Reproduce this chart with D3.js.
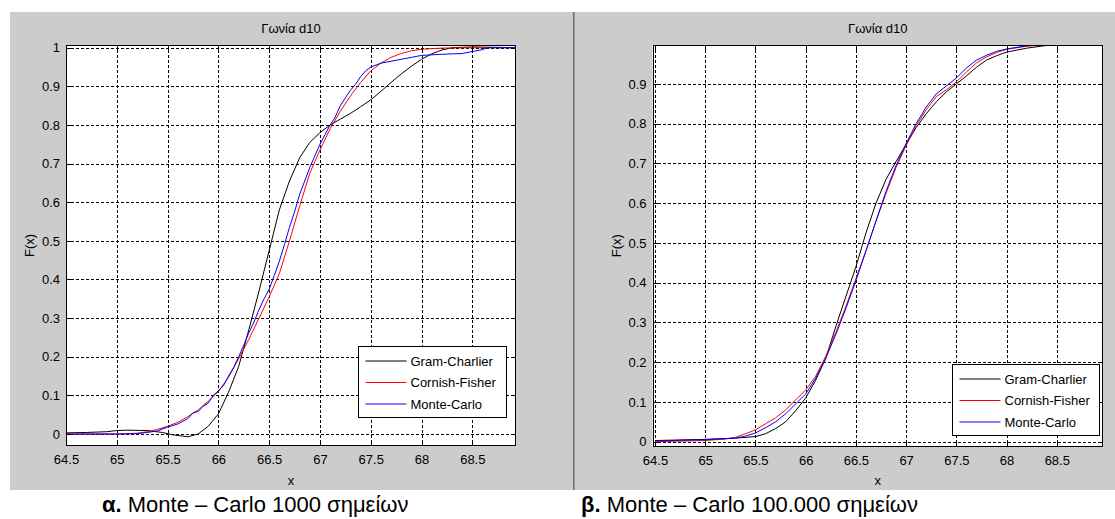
<!DOCTYPE html>
<html>
<head>
<meta charset="utf-8">
<script src="https://cdn.jsdelivr.net/npm/d3@7/dist/d3.min.js"></script>
<style>
  html, body { margin: 0; padding: 0; background: #ffffff; }
  svg { display: block; }
  text { font-family: "Liberation Sans", Arial, sans-serif; fill: #000; }
</style>
</head>
<body>
<svg id="fig" width="1115" height="519"></svg>
<script>
// ---- shared axis labels ----
const titleText = "Γωνία d10";
const xLabel = "x";
const yLabel = "F(x)";
const seriesNames = ["Gram-Charlier", "Cornish-Fisher", "Monte-Carlo"];
const seriesColors = ["#000000", "#ff0000", "#0000ff"];
const xTicks = [64.5, 65, 65.5, 66, 66.5, 67, 67.5, 68, 68.5];
const yTicksA = [0, 0.1, 0.2, 0.3, 0.4, 0.5, 0.6, 0.7, 0.8, 0.9, 1];
const yTicksB = [0, 0.1, 0.2, 0.3, 0.4, 0.5, 0.6, 0.7, 0.8, 0.9];

// ---- panel α : Monte-Carlo with 1000 samples ----
const gcXA = [64.5, 64.7, 64.9, 65.0, 65.1, 65.3, 65.45, 65.55, 65.7, 65.8, 65.9, 66.0, 66.1, 66.2, 66.3, 66.4, 66.5, 66.6, 66.7, 66.8, 66.9, 67.0, 67.1, 67.2, 67.3, 67.4, 67.5, 67.6, 67.7, 67.8, 67.9, 68.0, 68.1, 68.2, 68.3, 68.5, 68.93];
const gcFA = [0.003, 0.004, 0.006, 0.009, 0.01, 0.009, 0.004, -0.002, -0.007, 0.0, 0.02, 0.052, 0.108, 0.175, 0.27, 0.37, 0.475, 0.58, 0.655, 0.715, 0.755, 0.78, 0.80, 0.815, 0.83, 0.847, 0.865, 0.887, 0.91, 0.932, 0.952, 0.97, 0.984, 0.994, 1.0, 1.002, 1.0];

const cfXA = [64.5, 65.0, 65.2, 65.3, 65.4, 65.5, 65.6, 65.7, 65.8, 65.9, 66.0, 66.1, 66.2, 66.3, 66.4, 66.5, 66.6, 66.7, 66.8, 66.9, 67.0, 67.1, 67.2, 67.3, 67.4, 67.5, 67.6, 67.7, 67.8, 67.9, 68.0, 68.2, 68.5, 68.93];
const cfFA = [0.0, 0.0, 0.002, 0.006, 0.012, 0.02, 0.03, 0.045, 0.062, 0.085, 0.11, 0.147, 0.195, 0.245, 0.30, 0.355, 0.415, 0.5, 0.59, 0.675, 0.735, 0.79, 0.835, 0.875, 0.91, 0.94, 0.96, 0.975, 0.985, 0.992, 0.996, 0.999, 1.0, 1.0];

const mcXA = [64.5, 65.0, 65.2, 65.3, 65.4, 65.5, 65.6, 65.7, 65.75, 65.8, 65.85, 65.9, 65.95, 66.0, 66.05, 66.1, 66.15, 66.2, 66.25, 66.3, 66.35, 66.4, 66.45, 66.5, 66.55, 66.6, 66.65, 66.7, 66.75, 66.8, 66.85, 66.9, 66.95, 67.0, 67.05, 67.1, 67.15, 67.2, 67.25, 67.3, 67.35, 67.4, 67.45, 67.5, 67.6, 67.7, 67.8, 67.9, 68.0, 68.2, 68.4, 68.5, 68.6, 68.65, 68.93];
const mcFA = [0.0, 0.0, 0.001, 0.004, 0.008, 0.018, 0.026, 0.04, 0.055, 0.058, 0.072, 0.08, 0.1, 0.112, 0.125, 0.15, 0.172, 0.20, 0.23, 0.262, 0.29, 0.322, 0.35, 0.375, 0.41, 0.447, 0.49, 0.535, 0.575, 0.62, 0.655, 0.69, 0.72, 0.75, 0.775, 0.80, 0.82, 0.85, 0.87, 0.89, 0.905, 0.925, 0.94, 0.95, 0.96, 0.965, 0.97, 0.975, 0.98, 0.983, 0.985, 0.99, 0.995, 1.0, 1.0];

// ---- panel β : Monte-Carlo with 100.000 samples ----
const gcXB = [64.5, 65.0, 65.3, 65.5, 65.6, 65.7, 65.8, 65.9, 66.0, 66.1, 66.2, 66.3, 66.4, 66.5, 66.6, 66.7, 66.8, 66.9, 67.0, 67.1, 67.2, 67.3, 67.4, 67.5, 67.6, 67.7, 67.8, 67.9, 68.0, 68.2, 68.4, 68.6, 68.96];
const gcFB = [0.003, 0.006, 0.009, 0.013, 0.02, 0.033, 0.05, 0.078, 0.11, 0.155, 0.21, 0.29, 0.365, 0.44, 0.525, 0.6, 0.66, 0.705, 0.748, 0.79, 0.825, 0.855, 0.88, 0.9, 0.92, 0.942, 0.96, 0.971, 0.98, 0.99, 0.997, 1.0, 1.0];

const cfXB = [64.5, 65.0, 65.2, 65.3, 65.4, 65.5, 65.6, 65.7, 65.8, 65.9, 66.0, 66.1, 66.2, 66.3, 66.4, 66.5, 66.6, 66.7, 66.8, 66.9, 67.0, 67.1, 67.2, 67.3, 67.4, 67.5, 67.6, 67.7, 67.8, 67.9, 68.0, 68.2, 68.4, 68.6, 68.96];
const cfFB = [0.0, 0.003, 0.007, 0.011, 0.02, 0.03, 0.045, 0.06, 0.08, 0.105, 0.13, 0.165, 0.215, 0.275, 0.34, 0.41, 0.48, 0.555, 0.625, 0.69, 0.745, 0.795, 0.835, 0.868, 0.885, 0.905, 0.93, 0.953, 0.968, 0.979, 0.987, 0.995, 0.999, 1.0, 1.0];

const mcXB = [64.5, 65.0, 65.3, 65.4, 65.5, 65.6, 65.7, 65.8, 65.9, 66.0, 66.1, 66.2, 66.3, 66.4, 66.5, 66.6, 66.7, 66.8, 66.9, 67.0, 67.1, 67.2, 67.3, 67.4, 67.5, 67.6, 67.7, 67.8, 67.9, 68.0, 68.2, 68.4, 68.5, 68.96];
const mcFB = [0.002, 0.005, 0.009, 0.014, 0.022, 0.035, 0.05, 0.07, 0.095, 0.12, 0.16, 0.21, 0.27, 0.335, 0.405, 0.48, 0.555, 0.63, 0.695, 0.75, 0.80, 0.842, 0.875, 0.895, 0.915, 0.94, 0.96, 0.972, 0.982, 0.988, 0.996, 0.999, 1.0, 1.0];

const captionA = { bold: "α.", rest: " Monte – Carlo 1000 σημείων" };
const captionB = { bold: "β.", rest: " Monte – Carlo 100.000 σημείων" };

// ---- layout of the two panels ----
const panels = [
  {
    bg: { x: 10, w: 563 },
    box: { left: 66, right: 516, top: 45, bottom: 446 },
    xDomain: [64.5, 68.93], yDomain: [-0.031, 1.007],
    yTicks: yTicksA,
    series: [[gcXA, gcFA], [cfXA, cfFA], [mcXA, mcFA]],
    legend: { x: 357.5, y: 346, w: 148, h: 71 },
    yLabelX: 30,
    caption: captionA, captionX: 102
  },
  {
    bg: { x: 575, w: 540 },
    box: { left: 652.5, right: 1103, top: 45, bottom: 446.5 },
    xDomain: [64.475, 68.96], yDomain: [-0.012, 0.998],
    yTicks: yTicksB,
    series: [[gcXB, gcFB], [cfXB, cfFB], [mcXB, mcFB]],
    legend: { x: 951.5, y: 364, w: 147.5, h: 71 },
    yLabelX: 617,
    caption: captionB, captionX: 581
  }
];

const svg = d3.select("#fig");
svg.append("rect").attr("width", 1115).attr("height", 519).attr("fill", "#ffffff");

const figTop = 12, figBottom = 490;

panels.forEach((p, i) => {
  const g = svg.append("g");
  g.append("rect")
    .attr("x", p.bg.x).attr("y", figTop)
    .attr("width", p.bg.w).attr("height", figBottom - figTop)
    .attr("fill", "#cccccc");

  const b = p.box;
  const x = d3.scaleLinear().domain(p.xDomain).range([b.left, b.right]);
  const y = d3.scaleLinear().domain(p.yDomain).range([b.bottom, b.top]);

  // plot area
  g.append("rect")
    .attr("x", b.left).attr("y", b.top)
    .attr("width", b.right - b.left).attr("height", b.bottom - b.top)
    .attr("fill", "#ffffff");

  // dotted grid
  const grid = g.append("g").attr("stroke", "#000").attr("stroke-width", 1)
    .attr("stroke-dasharray", "3,2").attr("shape-rendering", "crispEdges");
  grid.selectAll(".gx").data(xTicks).join("line")
    .attr("x1", d => Math.round(x(d)) + 0.5).attr("x2", d => Math.round(x(d)) + 0.5)
    .attr("y1", b.top).attr("y2", b.bottom);
  grid.selectAll(".gy").data(p.yTicks).join("line")
    .attr("y1", d => Math.round(y(d)) + 0.5).attr("y2", d => Math.round(y(d)) + 0.5)
    .attr("x1", b.left).attr("x2", b.right);

  // curves
  const clipId = "clip" + i;
  g.append("clipPath").attr("id", clipId).append("rect")
    .attr("x", b.left).attr("y", b.top)
    .attr("width", b.right - b.left).attr("height", b.bottom - b.top);
  const line = d3.line().x(d => x(d[0])).y(d => y(d[1]));
  const curves = g.append("g").attr("clip-path", `url(#${clipId})`);
  p.series.forEach(([xs, fs], k) => {
    curves.append("path")
      .datum(xs.map((v, j) => [v, fs[j]]))
      .attr("d", line)
      .attr("fill", "none")
      .attr("stroke", seriesColors[k])
      .attr("stroke-width", 1);
  });

  // axes with inward ticks on all four sides
  const tl = 5;
  const axB = d3.axisBottom(x).tickValues(xTicks).tickSize(-tl).tickPadding(9).tickFormat(d3.format("~g"));
  const axT = d3.axisTop(x).tickValues(xTicks).tickSize(-tl).tickFormat("");
  const axL = d3.axisLeft(y).tickValues(p.yTicks).tickSize(-tl).tickPadding(6).tickFormat(d3.format("~g"));
  const axR = d3.axisRight(y).tickValues(p.yTicks).tickSize(-tl).tickFormat("");
  const styleAxis = sel => {
    sel.select(".domain").remove();
    sel.selectAll("line").attr("stroke", "#000").attr("shape-rendering", "crispEdges");
    sel.selectAll("text").attr("font-size", 13).attr("font-family", "Liberation Sans, Arial, sans-serif");
  };
  g.append("g").attr("transform", `translate(0,${b.bottom})`).call(axB).call(styleAxis);
  g.append("g").attr("transform", `translate(0,${b.top})`).call(axT).call(styleAxis);
  g.append("g").attr("transform", `translate(${b.left},0)`).call(axL).call(styleAxis);
  g.append("g").attr("transform", `translate(${b.right},0)`).call(axR).call(styleAxis);

  // box outline
  g.append("rect")
    .attr("x", b.left + 0.5).attr("y", b.top + 0.5)
    .attr("width", b.right - b.left - 1).attr("height", b.bottom - b.top - 1)
    .attr("fill", "none").attr("stroke", "#000").attr("stroke-width", 1)
    .attr("shape-rendering", "crispEdges");

  // title and axis labels
  const cx = (b.left + b.right) / 2;
  g.append("text").attr("x", cx).attr("y", 33).attr("text-anchor", "middle")
    .attr("font-size", 13).text(titleText);
  g.append("text").attr("x", cx).attr("y", 485).attr("text-anchor", "middle")
    .attr("font-size", 13).text(xLabel);
  g.append("text")
    .attr("transform", `translate(${p.yLabelX + 4},${(b.top + b.bottom) / 2}) rotate(-90)`)
    .attr("text-anchor", "middle").attr("font-size", 13).text(yLabel);

  // legend
  const L = p.legend;
  const lg = g.append("g");
  lg.append("rect").attr("x", L.x + 0.5).attr("y", L.y + 0.5).attr("width", L.w).attr("height", L.h)
    .attr("fill", "#ffffff").attr("stroke", "#000").attr("stroke-width", 1)
    .attr("shape-rendering", "crispEdges");
  const rowY = [15, 36.5, 58];
  seriesNames.forEach((name, k) => {
    lg.append("line")
      .attr("x1", L.x + 8).attr("x2", L.x + 49)
      .attr("y1", L.y + rowY[k]).attr("y2", L.y + rowY[k])
      .attr("stroke", seriesColors[k]).attr("stroke-width", 1);
    lg.append("text")
      .attr("x", L.x + 53).attr("y", L.y + rowY[k]).attr("dy", "0.36em")
      .attr("font-size", 13).text(name);
  });

  // caption below the panel
  const cap = g.append("text").attr("x", p.captionX).attr("y", 512).attr("font-size", 22);
  cap.append("tspan").attr("font-weight", "bold").text(p.caption.bold);
  cap.append("tspan").text(p.caption.rest);
});

// divider between the two panels
svg.append("rect").attr("x", 573).attr("y", figTop).attr("width", 2).attr("height", figBottom - figTop)
  .attr("fill", "#9a9a9a");
svg.append("line").attr("x1", 573.5).attr("x2", 573.5).attr("y1", figTop).attr("y2", figBottom)
  .attr("stroke", "#6f6f6f").attr("stroke-width", 1);
</script>
</body>
</html>
